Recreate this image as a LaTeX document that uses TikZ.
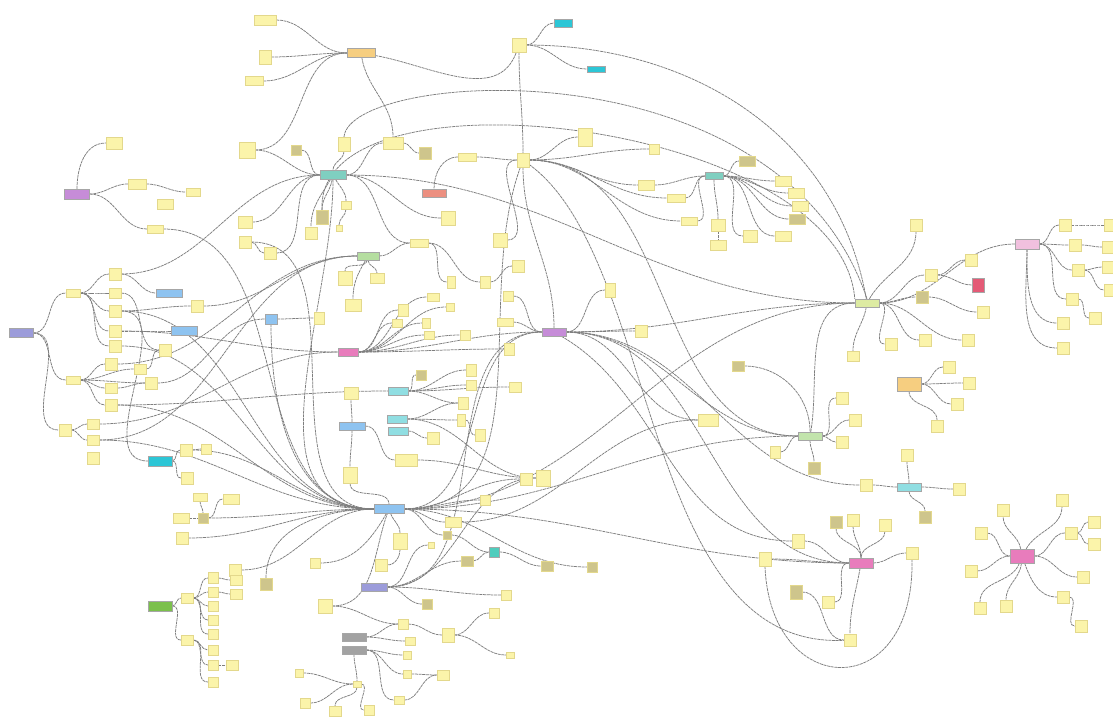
\documentclass[tikz,border=0pt]{standalone}
\usetikzlibrary{backgrounds}
\definecolor{sticky}{HTML}{FBF4AA}
\definecolor{stickyedge}{HTML}{E3D88C}
\definecolor{stickydark}{HTML}{CEC58C}
\definecolor{wire}{HTML}{7E7E7E}
\definecolor{lavender}{HTML}{9C9CDA}
\definecolor{orchid}{HTML}{C68CD8}
\definecolor{apricot}{HTML}{F6CE80}
\definecolor{aqua}{HTML}{2CC6D6}
\definecolor{seafoam}{HTML}{7FCFC0}
\definecolor{salmon}{HTML}{EC8F80}
\definecolor{sage}{HTML}{B5DEA0}
\definecolor{sky}{HTML}{8EC3F0}
\definecolor{rose}{HTML}{E87CBC}
\definecolor{icecyan}{HTML}{90DEE2}
\definecolor{lime}{HTML}{DDEBA2}
\definecolor{blush}{HTML}{F1C0DE}
\definecolor{crimson}{HTML}{E45A76}
\definecolor{fern}{HTML}{7BC04C}
\definecolor{slate}{HTML}{A2A2A2}
\definecolor{jade}{HTML}{4FCDBD}
\definecolor{mint}{HTML}{C2E4AC}
\tikzset{
  note/.style={fill=sticky, draw=stickyedge, line width=0.3pt, inner sep=0pt,
    minimum width=12pt, minimum height=12pt},
  dnote/.style={note, fill=stickydark},
  sz/.style 2 args={minimum width=#1pt, minimum height=#2pt},
  hubbox/.style={fill=#1, draw=black!35, line width=0.4pt, inner sep=0pt,
    minimum width=26pt, minimum height=9pt},
  link/.style={draw=wire, line width=0.75pt, dash pattern=on 3pt off 0.7pt},
  lr/.style={out=0, in=180},
  ud/.style={out=-90, in=90},
}
\begin{document}
\begin{tikzpicture}[x=1pt, y=-1pt]
  \useasboundingbox (0,0) rectangle (1113,720);

  % hubs
  \node[hubbox=lavender, sz={24}{9}] (lav) at (21,333) {};
  \node[hubbox=orchid, sz={25}{10}] (mag) at (77,194) {};
  \node[hubbox=apricot, sz={28}{9}] (org) at (361,53) {};
  \node[hubbox=aqua, sz={18}{8}] (cyA) at (563,23) {};
  \node[hubbox=aqua, sz={18}{6}] (cyB) at (596,69) {};
  \node[hubbox=seafoam] (tea) at (333,175) {};
  \node[hubbox=salmon, sz={24}{8}] (sal) at (434,193) {};
  \node[hubbox=sage, sz={22}{8}] (grn) at (368,256) {};
  \node[hubbox=sky, sz={26}{8}] (bl1) at (169,293) {};
  \node[hubbox=sky] (bl2) at (184,331) {};
  \node[hubbox=sky, sz={12}{10}] (bl3) at (271,319) {};
  \node[hubbox=rose, sz={20}{8}] (pnk) at (348,352) {};
  \node[hubbox=icecyan, sz={20}{8}] (tq1) at (398,391) {};
  \node[hubbox=icecyan, sz={20}{8}] (tq2) at (397,419) {};
  \node[hubbox=icecyan, sz={20}{8}] (tq3) at (398,431) {};
  \node[hubbox=sky, sz={26}{8}] (bl4) at (352,426) {};
  \node[hubbox=aqua, sz={24}{10}] (cyC) at (160,461) {};
  \node[hubbox=sky, sz={30}{9}] (hub) at (389,509) {};
  \node[hubbox=orchid, sz={24}{8}] (vio) at (554,332) {};
  \node[hubbox=seafoam, sz={18}{7}] (tea2) at (714,176) {};
  \node[hubbox=lime, sz={24}{8}] (ygr) at (867,303) {};
  \node[hubbox=blush, sz={24}{10}] (pk2) at (1027,244) {};
  \node[hubbox=crimson, sz={12}{14}] (red) at (978,285) {};
  \node[hubbox=apricot, sz={24}{14}] (or2) at (909,384) {};
  \node[hubbox=mint, sz={24}{8}] (lgr) at (810,436) {};
  \node[hubbox=icecyan, sz={24}{8}] (cyD) at (909,487) {};
  \node[hubbox=rose, sz={24}{10}] (pk3) at (861,563) {};
  \node[hubbox=rose, sz={24}{14}] (pk4) at (1022,556) {};
  \node[hubbox=jade, sz={10}{10}] (tq4) at (494,552) {};
  \node[hubbox=lavender, sz={26}{8}] (pur) at (374,587) {};
  \node[hubbox=fern, sz={24}{10}] (gr2) at (160,606) {};
  \node[hubbox=slate, sz={24}{8}] (gy1) at (354,637) {};
  \node[hubbox=slate, sz={24}{8}] (gy2) at (354,650) {};

  % notes, left
  \node[note, sz={14}{8}] (n1) at (73,293) {};
  \node[note, sz={14}{8}] (n2) at (73,380) {};
  \node[note] (n3) at (115,274) {};
  \node[note, sz={12}{10}] (n4) at (115,293) {};
  \node[note] (n5) at (115,311) {};
  \node[note] (n6) at (115,331) {};
  \node[note] (n7) at (115,346) {};
  \node[note] (n8) at (197,306) {};
  \node[note] (n9) at (165,350) {};
  \node[note] (n10) at (111,364) {};
  \node[note, sz={12}{10}] (n11) at (140,369) {};
  \node[note] (n12) at (151,383) {};
  \node[note, sz={12}{10}] (n13) at (111,388) {};
  \node[note] (n14) at (111,405) {};
  \node[note] (n15) at (65,430) {};
  \node[note, sz={12}{10}] (n16) at (93,424) {};
  \node[note, sz={12}{10}] (n17) at (93,440) {};
  \node[note] (n18) at (93,458) {};
  \node[note] (n19) at (186,450) {};
  \node[note, sz={10}{10}] (n20) at (206,449) {};
  \node[note] (n21) at (187,478) {};
  \node[note, sz={14}{8}] (n22) at (200,497) {};
  \node[dnote, sz={10}{10}] (n23) at (203,518) {};
  \node[note, sz={16}{10}] (n24) at (181,518) {};
  \node[note, sz={16}{10}] (n25) at (231,499) {};
  \node[note] (n26) at (182,538) {};
  \node[note] (n27) at (235,570) {};
  \node[note, sz={12}{10}] (n28) at (187,598) {};
  \node[note, sz={10}{11}] (n29) at (213,578) {};
  \node[note, sz={10}{10}] (n30) at (213,592) {};
  \node[note, sz={10}{10}] (n31) at (213,606) {};
  \node[note, sz={10}{10}] (n32) at (213,620) {};
  \node[note, sz={10}{10}] (n33) at (213,634) {};
  \node[note, sz={10}{10}] (n34) at (213,650) {};
  \node[note, sz={10}{10}] (n35) at (213,665) {};
  \node[note, sz={10}{10}] (n36) at (213,682) {};
  \node[note, sz={12}{10}] (n37) at (236,580) {};
  \node[note, sz={12}{10}] (n38) at (236,594) {};
  \node[note, sz={12}{10}] (n39) at (232,665) {};
  \node[note, sz={12}{10}] (n40) at (187,640) {};
  \node[dnote] (n41) at (266,584) {};
  \node[note, sz={16}{12}] (n42) at (114,143) {};
  \node[note, sz={18}{10}] (n43) at (137,184) {};
  \node[note, sz={14}{8}] (n44) at (193,192) {};
  \node[note, sz={16}{10}] (n45) at (165,204) {};
  \node[note, sz={16}{8}] (n46) at (155,229) {};

  % notes, top
  \node[note, sz={22}{10}] (n47) at (265,20) {};
  \node[note, sz={12}{14}] (n48) at (265,57) {};
  \node[note, sz={18}{9}] (n49) at (254,81) {};
  \node[note, sz={16}{16}] (n50) at (247,150) {};
  \node[note, sz={14}{12}] (n51) at (245,222) {};
  \node[note] (n52) at (245,242) {};
  \node[note] (n53) at (270,253) {};
  \node[dnote, sz={10}{10}] (n54) at (296,150) {};
  \node[note, sz={12}{14}] (n55) at (344,144) {};
  \node[note, sz={20}{12}] (n56) at (393,143) {};
  \node[dnote] (n57) at (425,153) {};
  \node[dnote, sz={12}{14}] (n58) at (322,217) {};
  \node[note] (n59) at (311,233) {};
  \node[note, sz={10}{8}] (n60) at (346,205) {};
  \node[note, sz={6}{6}] (n61) at (339,228) {};
  \node[note, sz={18}{8}] (n62) at (467,157) {};
  \node[note, sz={12}{14}] (n63) at (523,160) {};
  \node[note, sz={14}{14}] (n64) at (519,45) {};
  \node[note, sz={14}{14}] (n65) at (448,218) {};
  \node[note, sz={14}{14}] (n66) at (500,240) {};
  \node[note, sz={18}{8}] (n67) at (419,243) {};
  \node[note, sz={14}{14}] (n68) at (345,278) {};
  \node[note, sz={14}{10}] (n69) at (377,278) {};
  \node[note, sz={16}{12}] (n70) at (353,305) {};
  \node[note, sz={8}{12}] (n71) at (451,282) {};
  \node[note, sz={10}{12}] (n72) at (485,282) {};
  \node[note] (n73) at (518,266) {};
  \node[note, sz={10}{10}] (n74) at (508,296) {};
  \node[note, sz={12}{8}] (n75) at (433,297) {};
  \node[note, sz={10}{12}] (n76) at (403,310) {};
  \node[note, sz={8}{8}] (n77) at (450,307) {};
  \node[note, sz={10}{8}] (n78) at (397,323) {};
  \node[note, sz={8}{10}] (n79) at (426,323) {};
  \node[note, sz={16}{8}] (n80) at (505,322) {};
  \node[note, sz={10}{10}] (n81) at (465,335) {};
  \node[note, sz={10}{8}] (n82) at (429,335) {};
  \node[note, sz={10}{12}] (n83) at (319,318) {};
  \node[note, sz={10}{12}] (n84) at (509,349) {};

  % notes, upper right
  \node[note, sz={14}{18}] (n85) at (585,137) {};
  \node[note, sz={10}{10}] (n86) at (654,149) {};
  \node[dnote, sz={16}{10}] (n87) at (747,161) {};
  \node[note, sz={16}{10}] (n88) at (783,181) {};
  \node[note, sz={16}{10}] (n89) at (796,193) {};
  \node[note, sz={16}{10}] (n90) at (800,206) {};
  \node[dnote, sz={16}{10}] (n91) at (797,219) {};
  \node[note, sz={16}{10}] (n92) at (783,236) {};
  \node[note, sz={14}{12}] (n93) at (750,236) {};
  \node[note, sz={14}{12}] (n94) at (718,225) {};
  \node[note, sz={16}{10}] (n95) at (718,245) {};
  \node[note, sz={16}{8}] (n96) at (689,221) {};
  \node[note, sz={18}{8}] (n97) at (676,198) {};
  \node[note, sz={16}{10}] (n98) at (646,185) {};
  \node[note, sz={10}{14}] (n99) at (610,290) {};
  \node[note] (n100) at (641,331) {};
  \node[note] (n101) at (916,225) {};
  \node[note] (n102) at (931,275) {};
  \node[note] (n103) at (971,260) {};
  \node[dnote] (n104) at (922,297) {};
  \node[note] (n105) at (983,312) {};
  \node[note] (n106) at (891,344) {};
  \node[note] (n107) at (925,340) {};
  \node[note] (n108) at (968,340) {};
  \node[note, sz={12}{10}] (n109) at (853,356) {};
  \node[note] (n110) at (1065,225) {};
  \node[note] (n111) at (1075,245) {};
  \node[note] (n112) at (1078,270) {};
  \node[note] (n113) at (1072,299) {};
  \node[note] (n114) at (1095,318) {};
  \node[note] (n115) at (1063,323) {};
  \node[note] (n116) at (1063,348) {};
  \node[note] (n117) at (1110,225) {};
  \node[note] (n118) at (1108,247) {};
  \node[note] (n119) at (1108,267) {};
  \node[note] (n120) at (1110,290) {};

  % notes, middle
  \node[dnote, sz={10}{10}] (n121) at (421,375) {};
  \node[note, sz={10}{12}] (n122) at (471,370) {};
  \node[note, sz={10}{10}] (n123) at (471,385) {};
  \node[note, sz={10}{12}] (n124) at (463,403) {};
  \node[note, sz={8}{12}] (n125) at (461,420) {};
  \node[note, sz={10}{12}] (n126) at (480,435) {};
  \node[note] (n127) at (433,438) {};
  \node[note, sz={12}{10}] (n128) at (515,387) {};
  \node[note, sz={14}{16}] (n129) at (543,478) {};
  \node[note, sz={14}{12}] (n130) at (351,393) {};
  \node[note, sz={14}{16}] (n131) at (350,475) {};
  \node[note, sz={22}{12}] (n132) at (406,460) {};
  \node[note, sz={14}{16}] (n133) at (400,541) {};
  \node[note] (n134) at (381,565) {};
  \node[note, sz={10}{10}] (n135) at (315,563) {};
  \node[note] (n136) at (526,479) {};
  \node[note, sz={10}{10}] (n137) at (485,500) {};
  \node[note, sz={16}{10}] (n138) at (453,522) {};
  \node[dnote, sz={8}{8}] (n139) at (447,535) {};
  \node[dnote, sz={12}{10}] (n140) at (547,566) {};
  \node[dnote, sz={12}{10}] (n141) at (467,561) {};
  \node[note, sz={6}{6}] (n142) at (431,545) {};
  \node[dnote, sz={10}{10}] (n143) at (427,604) {};
  \node[note, sz={10}{10}] (n144) at (506,595) {};
  \node[note, sz={14}{14}] (n145) at (325,606) {};
  \node[note, sz={10}{10}] (n146) at (403,624) {};
  \node[note, sz={12}{14}] (n147) at (448,635) {};
  \node[note, sz={10}{10}] (n148) at (494,613) {};
  \node[note, sz={8}{6}] (n149) at (510,655) {};
  \node[note, sz={10}{8}] (n150) at (410,641) {};
  \node[note, sz={8}{8}] (n151) at (407,655) {};
  \node[note, sz={8}{8}] (n152) at (407,674) {};
  \node[note, sz={12}{10}] (n153) at (443,675) {};
  \node[note, sz={10}{8}] (n154) at (399,700) {};
  \node[note, sz={8}{6}] (n155) at (357,684) {};
  \node[note, sz={8}{8}] (n156) at (299,673) {};
  \node[note, sz={10}{10}] (n157) at (305,703) {};
  \node[note, sz={12}{10}] (n158) at (335,711) {};
  \node[note, sz={10}{10}] (n159) at (369,710) {};
  \node[dnote, sz={10}{10}] (n160) at (592,567) {};

  % notes, lower right
  \node[dnote, sz={12}{10}] (n161) at (738,366) {};
  \node[note, sz={20}{12}] (n162) at (708,420) {};
  \node[note, sz={10}{12}] (n163) at (775,452) {};
  \node[dnote] (n164) at (814,468) {};
  \node[note, sz={12}{12}] (n165) at (842,398) {};
  \node[note, sz={12}{14}] (n166) at (798,541) {};
  \node[note, sz={12}{14}] (n167) at (765,559) {};
  \node[dnote, sz={12}{14}] (n168) at (796,592) {};
  \node[note] (n169) at (828,602) {};
  \node[note] (n170) at (949,367) {};
  \node[note] (n171) at (969,383) {};
  \node[note] (n172) at (957,404) {};
  \node[note] (n173) at (937,426) {};
  \node[note] (n175) at (855,420) {};
  \node[note] (n176) at (842,442) {};
  \node[note] (n177) at (907,455) {};
  \node[note] (n178) at (959,489) {};
  \node[dnote] (n179) at (925,517) {};
  \node[note] (n180) at (866,485) {};
  \node[dnote] (n181) at (836,522) {};
  \node[note] (n182) at (853,520) {};
  \node[note] (n183) at (885,525) {};
  \node[note] (n184) at (912,553) {};
  \node[note] (n185) at (850,640) {};
  \node[note] (p1) at (1003,510) {};
  \node[note] (p2) at (1062,500) {};
  \node[note] (p3) at (981,533) {};
  \node[note] (p4) at (1071,533) {};
  \node[note] (p5) at (1094,522) {};
  \node[note] (p6) at (1094,544) {};
  \node[note] (p7) at (971,571) {};
  \node[note] (p8) at (1083,577) {};
  \node[note] (p9) at (980,608) {};
  \node[note] (p10) at (1006,606) {};
  \node[note] (p11) at (1063,597) {};
  \node[note] (p12) at (1081,626) {};

  \begin{scope}[on background layer]
    \fill[white] (0,0) rectangle (1113,720);

    % left cluster
    \draw[link] (lav) to[lr] (n1);
    \draw[link] (lav) to[lr] (n2);
    \draw[link] (lav) to[lr] (n15);
    \draw[link] (n1) to[lr] (n3);
    \draw[link] (n1) to[lr] (n4);
    \draw[link] (n1) to[lr] (n5);
    \draw[link] (n1) to[lr] (n6);
    \draw[link] (n1) to[lr] (n7);
    \draw[link] (n2) to[lr] (n10);
    \draw[link] (n2) to[lr] (n11);
    \draw[link] (n2) to[lr] (n12);
    \draw[link] (n2) to[lr] (n13);
    \draw[link] (n2) to[lr] (n14);
    \draw[link] (n15) to[lr] (n16);
    \draw[link] (n15) to[lr] (n17);
    \draw[link] (n3) to[lr] (bl1);
    \draw[link] (n3) to[lr] (tea);
    \draw[link] (n4) to[lr] (n9);
    \draw[link] (n5) to[lr] (n8);
    \draw[link] (n5) to[lr] (cyC);
    \draw[link] (n5) to[lr] (hub);
    \draw[link] (n6) to[lr] (bl2);
    \draw[link] (n6) to[lr] (pnk);
    \draw[link] (n7) to[lr] (hub);
    \draw[link] (n8) to[lr] (grn);
    \draw[link] (n11) to[lr] (n9);
    \draw[link] (n10) to[lr] (grn);
    \draw[link] (n12) to[lr] (bl3);
    \draw[link] (n13) to[lr] (n12);
    \draw[link] (n14) to[lr] (hub);
    \draw[link] (n14) to[lr] (tq1);
    \draw[link] (n16) to[lr] (pnk);
    \draw[link] (n17) to[lr] (grn);
    \draw[link] (n17) to[lr] (hub);
    \draw[link] (mag) to[out=90, in=180] (n42);
    \draw[link] (mag) to[lr] (n43);
    \draw[link] (n43) to[lr] (n44);
    \draw[link] (mag) to[lr] (n46);
    \draw[link] (n46) to[lr] (hub);
    \draw[link] (bl3) to[lr] (n83);
    \draw[link] (bl3) to[out=-90, in=180] (hub);
    \draw[link] (cyC) to[lr] (n19);
    \draw[link] (cyC) to[lr] (n21);
    \draw[link] (n19) to[lr] (n20);
    \draw[link] (n19) to[lr] (hub);
    \draw[link] (n22) to[ud] (n23);
    \draw[link] (n24) to[lr] (n23);
    \draw[link] (n23) to[lr] (n25);
    \draw[link] (n23) to[lr] (hub);
    \draw[link] (n26) to[lr] (hub);
    \draw[link] (n27) to[lr] (hub);
    \draw[link] (gr2) to[lr] (n28);
    \draw[link] (gr2) to[lr] (n40);
    \draw[link] (n28) to[lr] (n29);
    \draw[link] (n28) to[lr] (n30);
    \draw[link] (n28) to[lr] (n31);
    \draw[link] (n28) to[lr] (n32);
    \draw[link] (n28) to[lr] (n33);
    \draw[link] (n40) to[lr] (n34);
    \draw[link] (n40) to[lr] (n35);
    \draw[link] (n40) to[lr] (n36);
    \draw[link] (n29) to[lr] (n37);
    \draw[link] (n30) to[lr] (n38);
    \draw[link] (n35) to[lr] (n39);
    \draw[link] (n41) to[out=90, in=180] (hub);

    % top
    \draw[link] (n47) to[lr] (org);
    \draw[link] (n48) to[lr] (org);
    \draw[link] (n49) to[lr] (org);
    \draw[link] (n50) to[lr] (org);
    \draw[link] (n50) to[lr] (tea);
    \draw[link] (org) to[out=-80, in=90] (n56);
    \draw[link] (org) to[out=-10, in=250] (n64);
    \draw[link] (n51) to[lr] (tea);
    \draw[link] (n52) to[lr] (n53);
    \draw[link] (n53) to[lr] (tea);
    \draw[link] (n52) to[lr] (hub);
    \draw[link] (n54) to[lr] (tea);
    \draw[link] (n55) to[ud] (tea);
    \draw[link] (tea) to[lr] (n56);
    \draw[link] (n56) to[lr] (n57);
    \draw[link] (tea) to[out=-100, in=90] (n58);
    \draw[link] (tea) to[out=-120, in=90] (n59);
    \draw[link] (tea) to[out=-60, in=90] (n60);
    \draw[link] (n60) to[ud] (n61);
    \draw[link] (tea) to[lr] (n65);
    \draw[link] (tea) to[lr] (n67);
    \draw[link] (tea) to[lr] (ygr);
    \draw[link] (tea) to[out=-90, in=180] (hub);
    \draw[link] (n64) to[lr] (cyA);
    \draw[link] (n64) to[lr] (cyB);
    \draw[link] (n64) to[ud] (n63);
    \draw[link] (n62) to[out=180, in=90] (sal);
    \draw[link] (n62) to[lr] (n63);
    \draw[link] (n63) to[lr] (n98);
    \draw[link] (n63) to[lr] (n85);
    \draw[link] (n63) to[lr] (n86);
    \draw[link] (n63) to[lr] (n97);
    \draw[link] (n63) to[lr] (n96);
    \draw[link] (n63) to[out=-90, in=90] (vio);
    \draw[link] (n63) to[lr] (lgr);
    \draw[link] (n63) to[out=-110, in=0] (hub);
    \draw[link] (n66) to[lr] (n63);
    \draw[link] (n55.north) .. controls (350,70) and (780,40) .. (ygr.north);
    \draw[link] (n58.north) .. controls (315,60) and (840,120) .. (ygr.north west);
    \draw[link] (n64) to[out=0, in=100] (ygr);

    % teal cluster
    \draw[link] (n98) to[lr] (tea2);
    \draw[link] (n97) to[lr] (tea2);
    \draw[link] (n96) to[lr] (tea2);
    \draw[link] (tea2) to[lr] (n87);
    \draw[link] (tea2) to[lr] (n88);
    \draw[link] (tea2) to[lr] (n89);
    \draw[link] (tea2) to[lr] (n90);
    \draw[link] (tea2) to[lr] (n91);
    \draw[link] (tea2) to[lr] (n92);
    \draw[link] (tea2) to[lr] (n93);
    \draw[link] (tea2) to[ud] (n94);
    \draw[link] (n94) to[ud] (n95);

    % green, pink, violet
    \draw[link] (grn) to[out=-100, in=90] (n68);
    \draw[link] (grn) to[ud] (n69);
    \draw[link] (grn) to[out=-120, in=90] (n70);
    \draw[link] (grn) to[lr] (n67);
    \draw[link] (n67) to[lr] (n71);
    \draw[link] (n67) to[lr] (n72);
    \draw[link] (n72) to[lr] (n73);
    \draw[link] (hub) to[lr] (vio);
    \draw[link] (pnk) to[lr] (vio);
    \draw[link] (n80) to[lr] (vio);
    \draw[link] (n74) to[lr] (vio);
    \draw[link] (vio) to[lr] (n99);
    \draw[link] (vio) to[lr] (n100);
    \draw[link] (vio) to[lr] (ygr);
    \draw[link] (vio) to[lr] (lgr);
    \draw[link] (vio) to[lr] (pk3);
    \draw[link] (vio) to[lr] (n162);
    \draw[link] (vio) to[lr] (n180);
    \draw[link] (vio) to[out=-30, in=180] (n166);
    \draw[link] (pnk) to[lr] (n75);
    \draw[link] (pnk) to[lr] (n76);
    \draw[link] (pnk) to[lr] (n77);
    \draw[link] (pnk) to[lr] (n78);
    \draw[link] (pnk) to[lr] (n79);
    \draw[link] (pnk) to[lr] (n81);
    \draw[link] (pnk) to[lr] (n82);
    \draw[link] (pnk) to[lr] (n84);

    % turquoise and blue
    \draw[link] (tq1) to[lr] (n121);
    \draw[link] (tq1) to[lr] (n122);
    \draw[link] (tq1) to[lr] (n123);
    \draw[link] (tq1) to[lr] (n124);
    \draw[link] (tq1) to[lr] (n128);
    \draw[link] (tq2) to[lr] (n124);
    \draw[link] (tq2) to[lr] (n125);
    \draw[link] (tq2) to[lr] (n129);
    \draw[link] (n125) to[lr] (n126);
    \draw[link] (tq3) to[lr] (n127);
    \draw[link] (bl4) to[out=90, in=-90] (n130);
    \draw[link] (bl4) to[ud] (n131);
    \draw[link] (bl4) to[lr] (n132);
    \draw[link] (n131) to[ud] (hub);
    \draw[link] (n132) to[lr] (n129);

    % main hub
    \draw[link] (hub) to[out=-70, in=90] (n133);
    \draw[link] (n133) to[out=-90, in=0] (n134);
    \draw[link] (hub) to[out=-120, in=0] (n135);
    \draw[link] (hub) to[lr] (n136);
    \draw[link] (hub) to[lr] (n137);
    \draw[link] (hub) to[lr] (n138);
    \draw[link] (hub) to[lr] (n139);
    \draw[link] (hub) to[lr] (pk3);
    \draw[link] (hub) to[lr] (lgr);
    \draw[link] (hub) to[lr] (n160);
    \draw[link] (hub) to[lr] (ygr);
    \draw[link] (n138) to[lr] (n162);
    \draw[link] (n139) to[lr] (tq4);
    \draw[link] (tq4) to[lr] (n140);
    \draw[link] (n141) to[lr] (tq4);
    \draw[link] (pur) to[lr] (n141);
    \draw[link] (pur) to[lr] (n142);
    \draw[link] (pur) to[lr] (n143);
    \draw[link] (pur) to[lr] (n144);
    \draw[link] (pur) to[lr] (n129);
    \draw[link] (pur) to[lr] (vio);
    \draw[link] (n145) to[out=0, in=-110] (hub);
    \draw[link] (n145) to[lr] (n146);
    \draw[link] (n146) to[lr] (n147);
    \draw[link] (n147) to[lr] (n148);
    \draw[link] (n147) to[lr] (n149);
    \draw[link] (gy1) to[lr] (n146);
    \draw[link] (gy1) to[lr] (n150);
    \draw[link] (gy2) to[lr] (n151);
    \draw[link] (gy2) to[lr] (n152);
    \draw[link] (gy2) to[lr] (n154);
    \draw[link] (n152) to[lr] (n153);
    \draw[link] (n154) to[lr] (n153);
    \draw[link] (gy2) to[ud] (n155);
    \draw[link] (n156) to[lr] (n155);
    \draw[link] (n157) to[lr] (n155);
    \draw[link] (n155) to[ud] (n158);
    \draw[link] (n155) to[lr] (n159);

    % right side
    \draw[link] (n161) to[out=0, in=90] (lgr);
    \draw[link] (lgr) to[out=180, in=0] (n163);
    \draw[link] (lgr) to[ud] (n164);
    \draw[link] (lgr) to[out=80, in=180] (ygr);
    \draw[link] (lgr) to[lr] (n165);
    \draw[link] (lgr) to[lr] (n175);
    \draw[link] (lgr) to[lr] (n176);
    \draw[link] (ygr) to[out=60, in=-90] (n101);
    \draw[link] (ygr) to[lr] (n102);
    \draw[link] (ygr) to[lr] (n104);
    \draw[link] (ygr) to[lr] (n106);
    \draw[link] (ygr) to[lr] (n107);
    \draw[link] (ygr) to[lr] (n108);
    \draw[link] (n102) to[lr] (n103);
    \draw[link] (n102) to[lr] (red);
    \draw[link] (n104) to[lr] (n105);
    \draw[link] (ygr) to[out=-100, in=90] (n109);
    \draw[link] (ygr) to[lr] (pk2);
    \draw[link] (pk2) to[lr] (n110);
    \draw[link] (pk2) to[lr] (n111);
    \draw[link] (pk2) to[lr] (n112);
    \draw[link] (pk2) to[lr] (n113);
    \draw[link] (pk2) to[out=-90, in=180] (n115);
    \draw[link] (pk2) to[out=-90, in=180] (n116);
    \draw[link] (n110) to[lr] (n117);
    \draw[link] (n111) to[lr] (n118);
    \draw[link] (n112) to[lr] (n119);
    \draw[link] (n112) to[lr] (n120);
    \draw[link] (n113) to[lr] (n114);
    \draw[link] (or2) to[lr] (n170);
    \draw[link] (or2) to[lr] (n171);
    \draw[link] (or2) to[lr] (n172);
    \draw[link] (or2) to[ud] (n173);
    \draw[link] (cyD) to[out=90, in=-90] (n177);
    \draw[link] (cyD) to[lr] (n178);
    \draw[link] (cyD) to[ud] (n179);
    \draw[link] (n180) to[lr] (cyD);
    \draw[link] (n181) to[ud] (pk3);
    \draw[link] (n182) to[ud] (pk3);
    \draw[link] (n183) to[ud] (pk3);
    \draw[link] (pk3) to[lr] (n184);
    \draw[link] (pk3) to[out=-100, in=90] (n185);
    \draw[link] (n166) to[lr] (pk3);
    \draw[link] (n167) to[lr] (pk3);
    \draw[link] (n168) to[lr] (n185);
    \draw[link] (n169) to[lr] (pk3);
    \draw[link] (n63) .. controls (660,260) and (640,650) .. (n185);
    \draw[link] (n167.south) .. controls (770,700) and (915,705) .. (n184.south);
    \draw[link] (pk4) to[out=100, in=-90] (p1);
    \draw[link] (pk4) to[out=60, in=-90] (p2);
    \draw[link] (p3) to[lr] (pk4);
    \draw[link] (pk4) to[lr] (p4);
    \draw[link] (p4) to[lr] (p5);
    \draw[link] (p4) to[lr] (p6);
    \draw[link] (p7) to[lr] (pk4);
    \draw[link] (pk4) to[lr] (p8);
    \draw[link] (pk4) to[out=-110, in=90] (p9);
    \draw[link] (pk4) to[out=-95, in=90] (p10);
    \draw[link] (pk4) to[out=-70, in=180] (p11);
    \draw[link] (p11) to[lr] (p12);
  \end{scope}
\end{tikzpicture}
\end{document}
